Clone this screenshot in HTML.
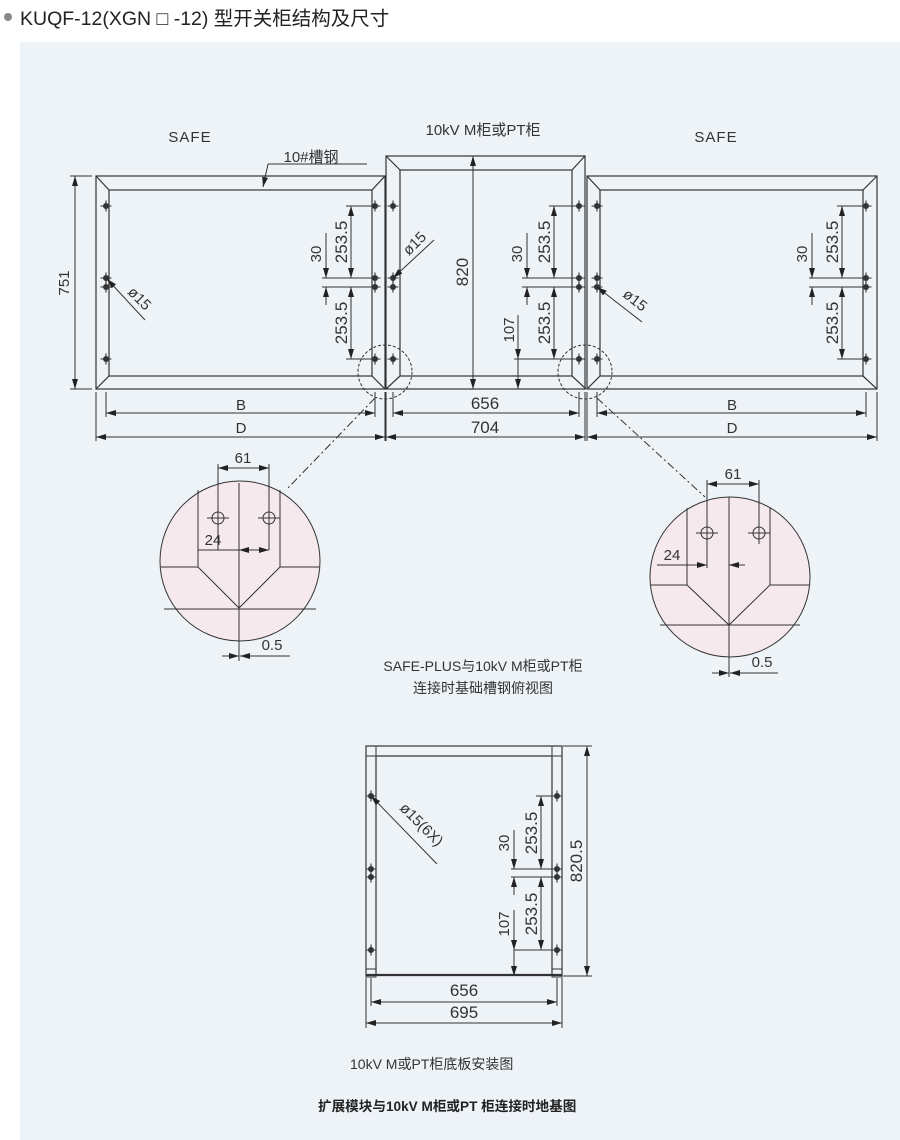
<!DOCTYPE html>
<html><head><meta charset="utf-8"><style>
html,body{margin:0;padding:0;background:#fff;width:900px;height:1140px;overflow:hidden}
svg{display:block}
text{font-family:"Liberation Sans","Noto Sans CJK SC",sans-serif;fill:#333}
</style></head><body>
<svg width="900" height="1140" viewBox="0 0 900 1140" xmlns="http://www.w3.org/2000/svg">
<defs>
<marker id="a" viewBox="0 0 10 6" refX="10" refY="3" markerWidth="10" markerHeight="6" orient="auto-start-reverse" markerUnits="userSpaceOnUse"><path d="M0,0 L10,3 L0,6 z" fill="#222"/></marker>
<g id="h"><circle r="3" fill="#333"/><path d="M-5.5,0H5.5M0,-5.5V5.5" stroke="#333" stroke-width="1.1"/></g>
<g id="hc"><circle r="6" fill="none" stroke="#333" stroke-width="1"/><path d="M-11,0H11M0,-11V11" stroke="#333" stroke-width="1"/></g>
</defs>
<rect x="0" y="0" width="900" height="1140" fill="#fff"/>
<rect x="20" y="42" width="880" height="1098" fill="#eef3f8"/>
<circle cx="8" cy="17" r="4" fill="#888"/>
<text x="20" y="25" font-size="19.5" fill="#222" style="fill:#222">KUQF-12(XGN □ -12) 型开关柜结构及尺寸</text>

<g stroke="#333" stroke-width="1.2" fill="none">
<rect x="96" y="176" width="289" height="213"/>
<rect x="109" y="190" width="263" height="186"/>
<path d="M96,176L109,190M385,176L372,190M96,389L109,376M372,376L385,389"/>
<rect x="386" y="156" width="199" height="233"/>
<rect x="400" y="170" width="172" height="206"/>
<path d="M386,156L400,170M585,156L572,170M386,389L400,376M572,376L586,389"/>
<rect x="587" y="176" width="290" height="213"/>
<rect x="600" y="190" width="263" height="186"/>
<path d="M587,176L600,190M877,176L863,190M587,389L600,376M863,376L877,389"/>
</g>
<g>
<use href="#h" x="106" y="206"/><use href="#h" x="106" y="278"/><use href="#h" x="106" y="287"/><use href="#h" x="106" y="359"/>
<use href="#h" x="375" y="206"/><use href="#h" x="375" y="278"/><use href="#h" x="375" y="287"/><use href="#h" x="375" y="359"/>
<use href="#h" x="393" y="206"/><use href="#h" x="393" y="278"/><use href="#h" x="393" y="287"/><use href="#h" x="393" y="359"/>
<use href="#h" x="579" y="206"/><use href="#h" x="579" y="278"/><use href="#h" x="579" y="287"/><use href="#h" x="579" y="359"/>
<use href="#h" x="597" y="206"/><use href="#h" x="597" y="278"/><use href="#h" x="597" y="287"/><use href="#h" x="597" y="359"/>
<use href="#h" x="866" y="206"/><use href="#h" x="866" y="278"/><use href="#h" x="866" y="287"/><use href="#h" x="866" y="359"/>
</g>
<g stroke="#333" stroke-width="1" fill="none">
<path d="M70,176H92M70,389H92"/>
<line x1="75" y1="176" x2="75" y2="389" marker-start="url(#a)" marker-end="url(#a)"/>
<path d="M346,206H372M322,278H372M322,287H372M346,359H372"/>
<line x1="351" y1="206" x2="351" y2="278" marker-start="url(#a)" marker-end="url(#a)"/>
<line x1="351" y1="287" x2="351" y2="359" marker-start="url(#a)" marker-end="url(#a)"/>
<line x1="326" y1="233" x2="326" y2="278" marker-end="url(#a)"/>
<line x1="326" y1="305" x2="326" y2="287" marker-end="url(#a)"/>
<path d="M549,206H575M522,278H575M522,287H575M514,359H575"/>
<line x1="554" y1="206" x2="554" y2="278" marker-start="url(#a)" marker-end="url(#a)"/>
<line x1="554" y1="287" x2="554" y2="359" marker-start="url(#a)" marker-end="url(#a)"/>
<line x1="527" y1="233" x2="527" y2="278" marker-end="url(#a)"/>
<line x1="527" y1="305" x2="527" y2="287" marker-end="url(#a)"/>
<line x1="518" y1="315" x2="518" y2="359" marker-end="url(#a)"/>
<line x1="518" y1="359" x2="518" y2="389" marker-end="url(#a)"/>
<path d="M837,206H862M809,278H862M809,287H862M837,359H862"/>
<line x1="842" y1="206" x2="842" y2="278" marker-start="url(#a)" marker-end="url(#a)"/>
<line x1="842" y1="287" x2="842" y2="359" marker-start="url(#a)" marker-end="url(#a)"/>
<line x1="812" y1="233" x2="812" y2="278" marker-end="url(#a)"/>
<line x1="812" y1="305" x2="812" y2="287" marker-end="url(#a)"/>
<line x1="473" y1="156" x2="473" y2="389" marker-start="url(#a)" marker-end="url(#a)"/>
<line x1="107" y1="279" x2="145" y2="320" marker-start="url(#a)"/>
<line x1="393" y1="278" x2="434" y2="240" marker-start="url(#a)"/>
<line x1="597" y1="287" x2="642" y2="322" marker-start="url(#a)"/>
<path d="M367,164H268"/>
<line x1="268" y1="164" x2="263" y2="187" marker-end="url(#a)"/>
<path d="M96,392V441M385,392V441M106,392V417M375,392V417M386,392V441M585,392V441M393,392V417M579,392V417M587,392V441M877,392V441M597,392V417M866,392V417"/>
<line x1="106" y1="413" x2="375" y2="413" marker-start="url(#a)" marker-end="url(#a)"/>
<line x1="96" y1="437" x2="385" y2="437" marker-start="url(#a)" marker-end="url(#a)"/>
<line x1="393" y1="413" x2="579" y2="413" marker-start="url(#a)" marker-end="url(#a)"/>
<line x1="386" y1="437" x2="585" y2="437" marker-start="url(#a)" marker-end="url(#a)"/>
<line x1="597" y1="413" x2="866" y2="413" marker-start="url(#a)" marker-end="url(#a)"/>
<line x1="587" y1="437" x2="877" y2="437" marker-start="url(#a)" marker-end="url(#a)"/>
<circle cx="385" cy="372" r="27" stroke-dasharray="3,2"/>
<circle cx="585" cy="372" r="27" stroke-dasharray="3,2"/>
<line x1="375" y1="398" x2="286" y2="490" stroke-dasharray="8,3,2,3"/>
<line x1="597" y1="398" x2="705" y2="497" stroke-dasharray="8,3,2,3"/>
</g>
<g font-size="15">
<text x="190" y="142" text-anchor="middle" letter-spacing="1">SAFE</text>
<text x="716" y="142" text-anchor="middle" letter-spacing="1">SAFE</text>
<text x="483" y="135" text-anchor="middle">10kV  M柜或PT柜</text>
<text x="311" y="162" text-anchor="middle">10#槽钢</text>
<text x="241" y="410" text-anchor="middle" font-family="Liberation Serif">B</text>
<text x="241" y="433" text-anchor="middle" font-family="Liberation Serif">D</text>
<text x="732" y="410" text-anchor="middle" font-family="Liberation Serif">B</text>
<text x="732" y="433" text-anchor="middle" font-family="Liberation Serif">D</text>
<text x="485" y="409" text-anchor="middle" font-size="17">656</text>
<text x="485" y="433" text-anchor="middle" font-size="17">704</text>
<text transform="translate(69,283) rotate(-90)" text-anchor="middle">751</text>
<text transform="translate(468,272) rotate(-90)" text-anchor="middle" font-size="17">820</text>
<text transform="translate(321,254) rotate(-90)" text-anchor="middle">30</text>
<text transform="translate(347,242) rotate(-90)" text-anchor="middle" font-size="17">253.5</text>
<text transform="translate(347,323) rotate(-90)" text-anchor="middle" font-size="17">253.5</text>
<text transform="translate(522,254) rotate(-90)" text-anchor="middle">30</text>
<text transform="translate(550,242) rotate(-90)" text-anchor="middle" font-size="17">253.5</text>
<text transform="translate(550,323) rotate(-90)" text-anchor="middle" font-size="17">253.5</text>
<text transform="translate(514,330) rotate(-90)" text-anchor="middle">107</text>
<text transform="translate(807,254) rotate(-90)" text-anchor="middle">30</text>
<text transform="translate(838,242) rotate(-90)" text-anchor="middle" font-size="17">253.5</text>
<text transform="translate(838,323) rotate(-90)" text-anchor="middle" font-size="17">253.5</text>
<text transform="translate(136,302) rotate(45)" text-anchor="middle">ø15</text>
<text transform="translate(418,247) rotate(-45)" text-anchor="middle">ø15</text>
<text transform="translate(632,304) rotate(38)" text-anchor="middle">ø15</text>
</g>

<g stroke="#333" stroke-width="1" fill="none">
<circle cx="240" cy="561" r="80" fill="#f5e9ee"/>
<path d="M239,483V661M198,490V567M280,490V567M161,567H198M280,567H319M198,567L239,608L280,567M164,609H316"/>
<path d="M218,464V550M269,464V550"/>
<line x1="218" y1="468" x2="269" y2="468" marker-start="url(#a)" marker-end="url(#a)"/>
<path d="M198,550H239"/>
<line x1="239" y1="550" x2="269" y2="550" marker-start="url(#a)" marker-end="url(#a)"/>
<line x1="222" y1="656" x2="239" y2="656" marker-end="url(#a)"/>
<line x1="256" y1="656" x2="240" y2="656" marker-end="url(#a)"/>
<path d="M256,656H290"/>
<circle cx="730" cy="577" r="80" fill="#f5e9ee"/>
<path d="M729,497V677M687,508V585M770,508V585M651,585H687M770,585H809M687,585L729,625L770,585M660,625H800"/>
<path d="M707,480V568M759,480V540"/>
<line x1="707" y1="484" x2="759" y2="484" marker-start="url(#a)" marker-end="url(#a)"/>
<line x1="657" y1="565" x2="707" y2="565" marker-end="url(#a)"/>
<line x1="745" y1="565" x2="729" y2="565" marker-end="url(#a)"/>
<line x1="712" y1="673" x2="729" y2="673" marker-end="url(#a)"/>
<line x1="746" y1="673" x2="730" y2="673" marker-end="url(#a)"/>
<path d="M746,673H778"/>
</g>
<use href="#hc" x="218" y="518"/><use href="#hc" x="269" y="518"/>
<use href="#hc" x="707" y="533"/><use href="#hc" x="759" y="533"/>
<g font-size="15">
<text x="243" y="463" text-anchor="middle">61</text>
<text x="213" y="545" text-anchor="middle">24</text>
<text x="272" y="650" text-anchor="middle">0.5</text>
<text x="733" y="479" text-anchor="middle">61</text>
<text x="672" y="560" text-anchor="middle">24</text>
<text x="762" y="667" text-anchor="middle">0.5</text>
<text x="483" y="671" text-anchor="middle" font-size="14">SAFE-PLUS与10kV  M柜或PT柜</text>
<text x="483" y="693" text-anchor="middle" font-size="14">连接时基础槽钢俯视图</text>
</g>

<g stroke="#333" stroke-width="1.2" fill="none">
<rect x="366" y="746" width="196" height="229"/>
<path d="M376,756V975M552,756V975M376,756H552"/>
<path d="M366,975H562" stroke-width="2.2"/>
<rect x="366" y="746" width="10" height="10" stroke-width="1"/>
<rect x="552" y="746" width="10" height="10" stroke-width="1"/>
<rect x="366" y="969" width="10" height="8" stroke-width="1"/>
<rect x="552" y="969" width="10" height="8" stroke-width="1"/>
</g>
<use href="#h" x="371" y="796"/><use href="#h" x="371" y="869"/><use href="#h" x="371" y="877"/><use href="#h" x="371" y="950"/>
<use href="#h" x="557" y="796"/><use href="#h" x="557" y="869"/><use href="#h" x="557" y="877"/><use href="#h" x="557" y="950"/>
<g stroke="#333" stroke-width="1" fill="none">
<path d="M563,746H592M563,976H592M536,796H553M511,869H553M511,877H553M514,950H553"/>
<line x1="587" y1="746" x2="587" y2="976" marker-start="url(#a)" marker-end="url(#a)"/>
<line x1="541" y1="796" x2="541" y2="869" marker-start="url(#a)" marker-end="url(#a)"/>
<line x1="541" y1="877" x2="541" y2="950" marker-start="url(#a)" marker-end="url(#a)"/>
<line x1="514" y1="830" x2="514" y2="869" marker-end="url(#a)"/>
<line x1="514" y1="895" x2="514" y2="877" marker-end="url(#a)"/>
<line x1="514" y1="910" x2="514" y2="950" marker-end="url(#a)"/>
<line x1="514" y1="950" x2="514" y2="976" marker-end="url(#a)"/>
<line x1="371" y1="796" x2="437" y2="864" marker-start="url(#a)"/>
<path d="M366,978V1028M562,978V1028M371,978V1006M557,978V1006"/>
<line x1="371" y1="1002" x2="557" y2="1002" marker-start="url(#a)" marker-end="url(#a)"/>
<line x1="366" y1="1023" x2="562" y2="1023" marker-start="url(#a)" marker-end="url(#a)"/>
</g>
<g font-size="15">
<text transform="translate(582,861) rotate(-90)" text-anchor="middle" font-size="17">820.5</text>
<text transform="translate(537,833) rotate(-90)" text-anchor="middle" font-size="17">253.5</text>
<text transform="translate(537,914) rotate(-90)" text-anchor="middle" font-size="17">253.5</text>
<text transform="translate(509,843) rotate(-90)" text-anchor="middle">30</text>
<text transform="translate(509,924) rotate(-90)" text-anchor="middle">107</text>
<text transform="translate(418,828) rotate(45)" text-anchor="middle">ø15(6X)</text>
<text x="464" y="996" text-anchor="middle" font-size="17">656</text>
<text x="464" y="1018" text-anchor="middle" font-size="17">695</text>
<text x="350" y="1069" font-size="14">10kV  M或PT柜底板安装图</text>
<text x="318" y="1111" font-size="13.6" font-weight="bold" style="fill:#222">扩展模块与10kV  M柜或PT 柜连接时地基图</text>
</g>
</svg>
</body></html>
